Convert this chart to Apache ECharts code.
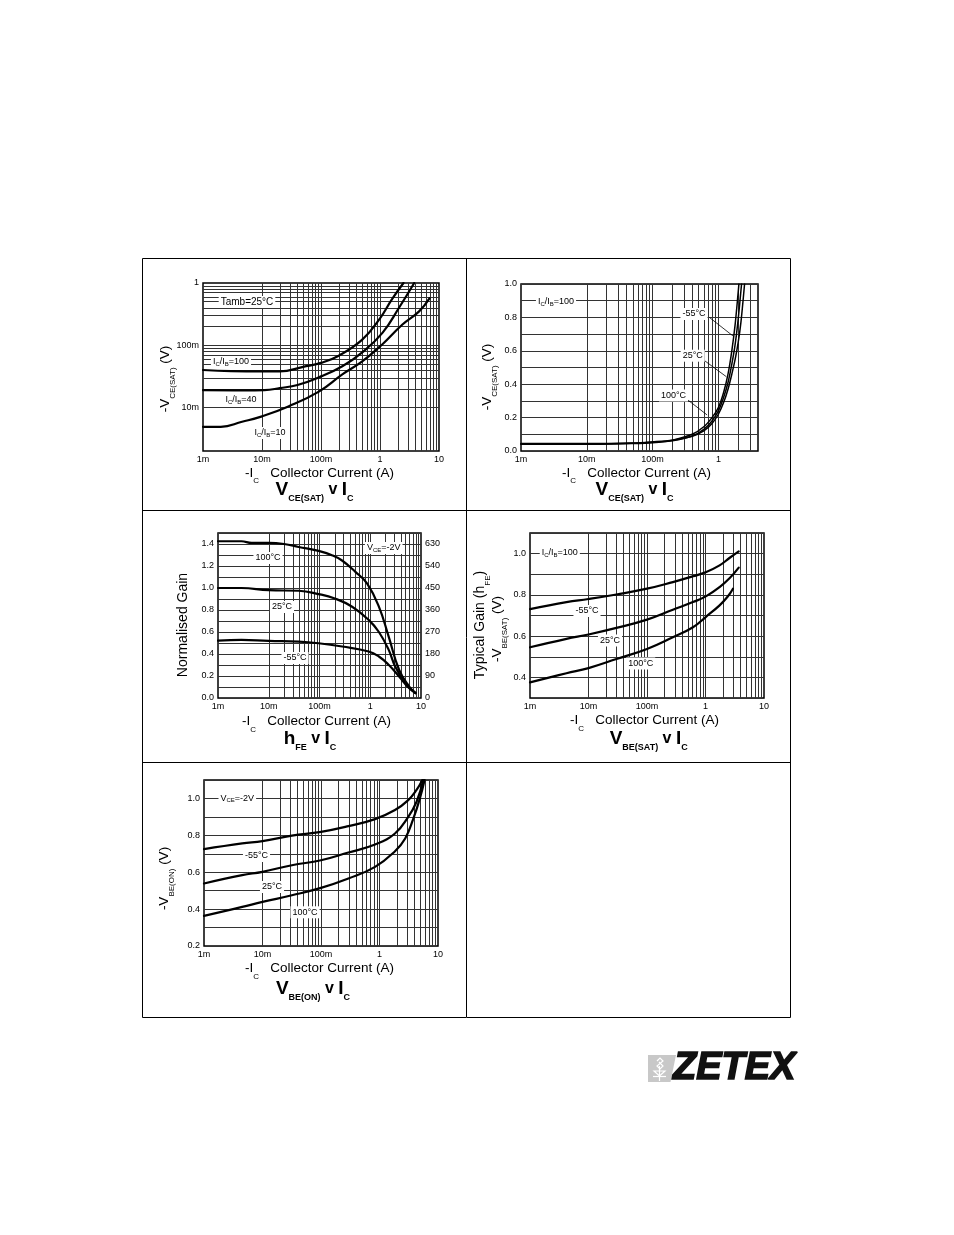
<!DOCTYPE html>
<html><head><meta charset="utf-8">
<script src="https://cdn.jsdelivr.net/npm/echarts/dist/echarts.min.js"></script>
<style>html,body{margin:0;padding:0;background:#fff}#c{width:954px;height:1235px}</style>
</head><body><div id="c"></div>
<script>
// ---------------- DATA ----------------
const xDecadeLabels = {'-3':'1m','-2':'10m','-1':'100m','0':'1','1':'10'};
// Chart 1: VCE(SAT) v IC (log-log), Tamb=25C
const vce_ib100 = [[0.001,0.040],[0.003,0.0385],[0.01,0.038],[0.02,0.038],[0.05,0.045],[0.1,0.052],[0.2,0.068],[0.5,0.123],[1,0.27],[1.6,0.55],[2.5,1.0]];
const vce_ib40  = [[0.001,0.019],[0.005,0.0188],[0.011,0.019],[0.02,0.0205],[0.04,0.023],[0.1,0.0316],[0.23,0.046],[0.5,0.077],[1.1,0.158],[2.1,0.40],[3.8,1.0]];
const vce_ib10  = [[0.001,0.0049],[0.002,0.0049],[0.0046,0.0059],[0.01,0.0072],[0.028,0.0104],[0.092,0.018],[0.23,0.034],[0.5,0.055],[1.09,0.103],[2.4,0.215],[4.6,0.35],[6.95,0.57]];
// Chart 2: VCE(SAT) v IC (lin), IC/IB=100
const vce_m55 = [[0.001,0.04],[0.01,0.04],[0.05,0.045],[0.1,0.05],[0.2,0.065],[0.4,0.1],[0.6,0.145],[0.8,0.2],[1.0,0.26],[1.2,0.35],[1.4,0.46],[1.6,0.6],[1.8,0.76],[2.05,1.0]];
const vce_25  = [[0.001,0.042],[0.01,0.042],[0.05,0.046],[0.1,0.052],[0.2,0.062],[0.4,0.09],[0.6,0.13],[0.8,0.18],[1.0,0.24],[1.2,0.32],[1.4,0.41],[1.6,0.52],[1.8,0.64],[2.0,0.79],[2.25,1.0]];
const vce_100 = [[0.001,0.045],[0.01,0.045],[0.05,0.048],[0.1,0.055],[0.2,0.065],[0.4,0.088],[0.6,0.12],[0.8,0.165],[1.0,0.22],[1.2,0.29],[1.4,0.37],[1.6,0.46],[1.8,0.55],[2.0,0.65],[2.2,0.77],[2.5,1.0]];
// Chart 3: hFE v IC, VCE=-2V (normalised gain)
const hfe_100 = [[0.001,1.425],[0.0029,1.425],[0.0046,1.41],[0.01,1.41],[0.02,1.40],[0.039,1.373],[0.096,1.337],[0.176,1.298],[0.278,1.25],[0.51,1.147],[0.87,1.04],[1.48,0.83],[2.3,0.56],[3.7,0.257],[5.8,0.106],[7.8,0.045]];
const hfe_25  = [[0.001,1.0],[0.0029,1.0],[0.01,0.98],[0.039,0.975],[0.096,0.945],[0.2,0.905],[0.44,0.83],[0.93,0.71],[1.48,0.60],[2.3,0.44],[3.1,0.287],[4.9,0.136],[7.8,0.045]];
const hfe_m55 = [[0.001,0.522],[0.0029,0.528],[0.01,0.519],[0.039,0.513],[0.096,0.498],[0.28,0.468],[0.93,0.423],[1.48,0.377],[2.3,0.302],[3.7,0.196],[5.8,0.09],[7.8,0.045]];
// Chart 4: VBE(SAT) v IC, IC/IB=100
const vbs_m55 = [[0.001,0.731],[0.0042,0.765],[0.01,0.78],[0.03,0.802],[0.1,0.83],[0.277,0.862],[0.61,0.89],[1.03,0.911],[1.74,0.943],[2.6,0.98],[3.7,1.011]];
const vbs_25  = [[0.001,0.546],[0.0042,0.587],[0.01,0.608],[0.03,0.64],[0.1,0.68],[0.277,0.728],[0.61,0.765],[1.03,0.794],[1.74,0.838],[2.6,0.882],[3.7,0.932]];
const vbs_100 = [[0.001,0.376],[0.0042,0.42],[0.01,0.445],[0.03,0.489],[0.1,0.538],[0.277,0.595],[0.61,0.643],[1.03,0.695],[1.74,0.749],[2.4,0.792],[2.95,0.83]];
// Chart 5: VBE(ON) v IC, VCE=-2V
const von_m55 = [[0.001,0.725],[0.0045,0.756],[0.01,0.769],[0.0318,0.798],[0.1,0.819],[0.294,0.85],[0.84,0.888],[1.84,0.937],[3.1,0.991],[4.3,1.046],[5.4,1.1]];
const von_25  = [[0.001,0.539],[0.0045,0.584],[0.01,0.602],[0.0318,0.638],[0.1,0.665],[0.294,0.707],[0.84,0.75],[1.84,0.81],[3.1,0.9],[4.3,0.982],[5.6,1.1]];
const von_100 = [[0.001,0.363],[0.0045,0.412],[0.01,0.439],[0.0318,0.475],[0.1,0.515],[0.294,0.566],[0.84,0.629],[1.84,0.714],[2.75,0.783],[3.8,0.892],[4.9,1.0],[5.9,1.1]];
// leader lines chart 2 (label -> curve), data coords
const leaders2 = [[[0.73,0.80],[1.69,0.687]],[[0.597,0.545],[1.32,0.445]],[[0.345,0.305],[0.673,0.216]]];

// ---------------- STYLE / LAYOUT ----------------
const FONT = "'Liberation Sans', Arial, Helvetica, sans-serif";
const GRIDC = '#333';
const RICH = {
  m:  {fontFamily:FONT, fontSize:13.5, lineHeight:24, fill:'#000'},
  s:  {fontFamily:FONT, fontSize:8, lineHeight:8, verticalAlign:'bottom', fill:'#000'},
  g:  {fontFamily:FONT, fontSize:14, lineHeight:24, fill:'#000'},
  t:  {fontFamily:FONT, fontSize:19, fontWeight:'bold', lineHeight:26, fill:'#000'},
  tv: {fontFamily:FONT, fontSize:16, fontWeight:'bold', lineHeight:26, fill:'#000'},
  ts: {fontFamily:FONT, fontSize:9, fontWeight:'bold', lineHeight:9, verticalAlign:'bottom', fill:'#000'},
  a:  {fontFamily:FONT, fontSize:9, lineHeight:10, fill:'#000'},
  as: {fontFamily:FONT, fontSize:6, lineHeight:5, verticalAlign:'bottom', fill:'#000'},
  b:  {fontFamily:FONT, fontSize:10, lineHeight:10, fill:'#000'}
};
const IB100 = '{a|I}{as|C}{a|/I}{as|B}{a|=100}';
const annotations = [
  [247,302,'{b|Tamb=25°C}'],[231,362,IB100],[241,400,'{a|I}{as|C}{a|/I}{as|B}{a|=40}'],[270,433,'{a|I}{as|C}{a|/I}{as|B}{a|=10}'],
  [556,302,IB100],[694,314,'{a|-55°C}'],[692.7,355.7,'{a|25°C}'],[673.5,395.5,'{a|100°C}'],
  [268,558,'{a|100°C}'],[282,607,'{a|25°C}'],[295,658,'{a|-55°C}'],[383.7,548,'{a|V}{as|CE}{a|=-2V}'],
  [559.8,553,IB100],[587,611,'{a|-55°C}'],[610,640.5,'{a|25°C}'],[640.7,663.5,'{a|100°C}'],
  [237.3,798.7,'{a|V}{as|CE}{a|=-2V}'],[256.5,856,'{a|-55°C}'],[272,887,'{a|25°C}'],[305,912.3,'{a|100°C}']
];
const XNAME = '{m|-I}{s|C}{m|   Collector Current (A)}';
const xNames = [[245,473],[562,473],[242,721.5],[570,720.7],[245,968.7]];
const titles = [
  [314.5,489.7,'{t|V}{ts|CE(SAT)}{tv| v }{t|I}{ts|C}'],
  [634.5,489.7,'{t|V}{ts|CE(SAT)}{tv| v }{t|I}{ts|C}'],
  [310,739,'{t|h}{ts|FE}{tv| v }{t|I}{ts|C}'],
  [648.7,739,'{t|V}{ts|BE(SAT)}{tv| v }{t|I}{ts|C}'],
  [313,988.7,'{t|V}{ts|BE(ON)}{tv| v }{t|I}{ts|C}']
];
const yTitles = [
  [165,379,'{m|-V}{s|CE(SAT)}{m| (V)}'],
  [487,377,'{m|-V}{s|CE(SAT)}{m| (V)}'],
  [183.5,625,'{g|Normalised Gain}'],
  [480,625,'{g|Typical Gain (h}{s|FE}{g|)}'],
  [497,629,'{m|-V}{s|BE(SAT)}{m| (V)}'],
  [164,878.5,'{m|-V}{s|BE(ON)}{m| (V)}']
];

// ---------------- HELPERS ----------------
function logFmt(v){ const e=Math.log10(v), r=Math.round(e); return (Math.abs(e-r)<1e-6 && xDecadeLabels[r]!==undefined) ? xDecadeLabels[r] : ''; }
function linFmt(v){ const k=Math.round(v*10); return k%2===0 ? (k/10).toFixed(1) : ''; }
function logLines(min,max){
  const out=[];
  for(let e=Math.floor(Math.log10(min)); e<=Math.ceil(Math.log10(max)); e++){
    for(let k=1;k<=9;k++){ const v=+(k*Math.pow(10,e)).toPrecision(4); if(v>min*1.0001 && v<max*0.9999) out.push(v); }
  }
  return out;
}
const lab = {fontSize:9, fontFamily:FONT, color:'#000'};
function logX(gi,max){ return {type:'log', logBase:10, gridIndex:gi, min:0.001, max:max, axisLine:{show:false}, axisTick:{show:false}, splitLine:{show:false}, axisLabel:Object.assign({formatter:logFmt, margin:4, showMinLabel:true, showMaxLabel:true},lab)}; }
function linY(gi,min,max){ return {type:'value', gridIndex:gi, min:min, max:max, interval:0.1, axisLine:{show:false}, axisTick:{show:false}, splitLine:{show:true, lineStyle:{color:GRIDC, width:1}}, axisLabel:Object.assign({formatter:linFmt, margin:4, showMinLabel:true, showMaxLabel:true},lab)}; }
function curve(data,gi,yi,sm,w){ return {type:'line', xAxisIndex:gi, yAxisIndex:yi, data:data, showSymbol:false, symbol:'none', smooth:(sm===undefined?0.45:sm), lineStyle:{color:'#000', width:(w||2.2), cap:'round', join:'round'}, z:5, silent:true, animation:false}; }
function gridSeries(gi,yi,xl,yl){
  const d = xl.map(v=>({xAxis:v})).concat(yl.map(v=>({yAxis:v})));
  return {type:'line', xAxisIndex:gi, yAxisIndex:yi, data:[], z:1, silent:true, animation:false,
    markLine:{silent:true, symbol:['none','none'], animation:false, label:{show:false}, emphasis:{disabled:true}, lineStyle:{color:GRIDC, width:1, type:'solid'}, data:d}};
}
function gtext(x,y,text,extra){ return Object.assign({type:'text', x:x, y:y, z:100, silent:true, style:{text:text, rich:RICH, align:'center', verticalAlign:'middle', fontFamily:FONT, fill:'#000'}}, extra||{}); }

// ---------------- OPTION ----------------
const gridBox = {show:true, borderColor:'#000', borderWidth:1.5, backgroundColor:'rgba(0,0,0,0)', containLabel:false, outerBoundsMode:'none'};
const grid = [
  Object.assign({left:203, top:283, width:236, height:168}, gridBox),
  Object.assign({left:521, top:284, width:237, height:167}, gridBox),
  Object.assign({left:218, top:533, width:203, height:165}, gridBox),
  Object.assign({left:530, top:533, width:234, height:165}, gridBox),
  Object.assign({left:204, top:780, width:234, height:166}, gridBox)
];
const xAxis = [logX(0,10), logX(1,4), logX(2,10), logX(3,10), logX(4,10)];
const yAxis = [
  {type:'log', logBase:10, gridIndex:0, min:0.002, max:1, axisLine:{show:false}, axisTick:{show:false}, splitLine:{show:false}, axisLabel:Object.assign({formatter:logFmt, margin:4, showMinLabel:true, showMaxLabel:true},lab)},
  linY(1,0,1),
  linY(2,0,1.5),
  {type:'value', gridIndex:2, position:'right', min:0, max:675, interval:45, axisLine:{show:false}, axisTick:{show:false}, splitLine:{show:false}, axisLabel:Object.assign({formatter:v=>(Math.round(v)%90===0?String(Math.round(v)):''), margin:4, showMinLabel:true, showMaxLabel:true},lab)},
  linY(3,0.3,1.1),
  linY(4,0.2,1.1)
];
const series = [
  gridSeries(0,0,logLines(0.001,10),logLines(0.002,1)),
  gridSeries(1,1,logLines(0.001,4),[]),
  gridSeries(2,2,logLines(0.001,10),[]),
  gridSeries(3,4,logLines(0.001,10),[]),
  gridSeries(4,5,logLines(0.001,10),[]),
  curve(vce_ib100,0,0), curve(vce_ib40,0,0), curve(vce_ib10,0,0),
  curve(vce_m55,1,1,0.3,1.5), curve(vce_25,1,1,0.3,1.5), curve(vce_100,1,1,0.3,1.5),
  curve(hfe_100,2,2), curve(hfe_25,2,2), curve(hfe_m55,2,2),
  curve(vbs_m55,3,4), curve(vbs_25,3,4), curve(vbs_100,3,4),
  curve(von_m55,4,5), curve(von_25,4,5), curve(von_100,4,5),
  {type:'line', xAxisIndex:1, yAxisIndex:1, data:[], z:6, silent:true, animation:false,
   markLine:{silent:true, symbol:['none','none'], animation:false, label:{show:false}, emphasis:{disabled:true}, lineStyle:{color:'#000', width:0.8, type:'solid'},
     data:leaders2.map(p=>[{coord:p[0]},{coord:p[1]}])}}
];

const graphic = [
  {type:'rect', z:50, silent:true, shape:{x:142.5,y:258.5,width:648,height:759}, style:{fill:'none', stroke:'#000', lineWidth:1}},
  {type:'line', z:50, silent:true, shape:{x1:466.5,y1:258,x2:466.5,y2:1017}, style:{stroke:'#000', lineWidth:1}},
  {type:'line', z:50, silent:true, shape:{x1:142,y1:510.5,x2:790,y2:510.5}, style:{stroke:'#000', lineWidth:1}},
  {type:'line', z:50, silent:true, shape:{x1:142,y1:762.5,x2:790,y2:762.5}, style:{stroke:'#000', lineWidth:1}}
];
annotations.forEach(a=>graphic.push(gtext(a[0],a[1],a[2],{style:{text:a[2], rich:RICH, align:'center', verticalAlign:'middle', fontFamily:FONT, fill:'#000', backgroundColor:'#fff', padding:[1,2,1,2]}})));
xNames.forEach(p=>graphic.push(gtext(p[0],p[1],XNAME,{style:{text:XNAME, rich:RICH, align:'left', verticalAlign:'middle', fontFamily:FONT, fill:'#000'}})));
titles.forEach(p=>graphic.push(gtext(p[0],p[1],p[2])));
yTitles.forEach(p=>graphic.push(gtext(p[0],p[1],p[2],{rotation:Math.PI/2})));
// logo
graphic.push({type:'polygon', z:50, silent:true, shape:{points:[[648,1055],[676,1055],[670.5,1082],[648,1082]]}, style:{fill:'#c8c8c8'}});
graphic.push({type:'polyline', z:51, silent:true, shape:{points:[[657,1061],[660,1058],[663,1061],[657,1066],[660,1069],[663,1066],[659,1062]]}, style:{stroke:'#fff', lineWidth:1.2, fill:'none'}});
graphic.push({type:'line', z:51, silent:true, shape:{x1:659.5,y1:1066,x2:659.5,y2:1081}, style:{stroke:'#fff', lineWidth:1.2}});
graphic.push({type:'polygon', z:51, silent:true, shape:{points:[[654,1071],[665,1071],[659.5,1076]]}, style:{fill:'none', stroke:'#fff', lineWidth:1.2}});
graphic.push({type:'line', z:51, silent:true, shape:{x1:653,y1:1076.5,x2:666,y2:1076.5}, style:{stroke:'#fff', lineWidth:1.2}});
graphic.push({type:'text', z:51, silent:true, x:673, y:1069, style:{text:'ZETEX', fontFamily:FONT, fontSize:38, fontWeight:'bold', fontStyle:'italic', fill:'#111', stroke:'#111', lineWidth:1.6, align:'left', verticalAlign:'middle'}});

const chart = echarts.init(document.getElementById('c'), null, {renderer:'canvas'});
chart.setOption({animation:false, backgroundColor:'#fff', grid:grid, xAxis:xAxis, yAxis:yAxis, series:series, graphic:graphic});
</script></body></html>
